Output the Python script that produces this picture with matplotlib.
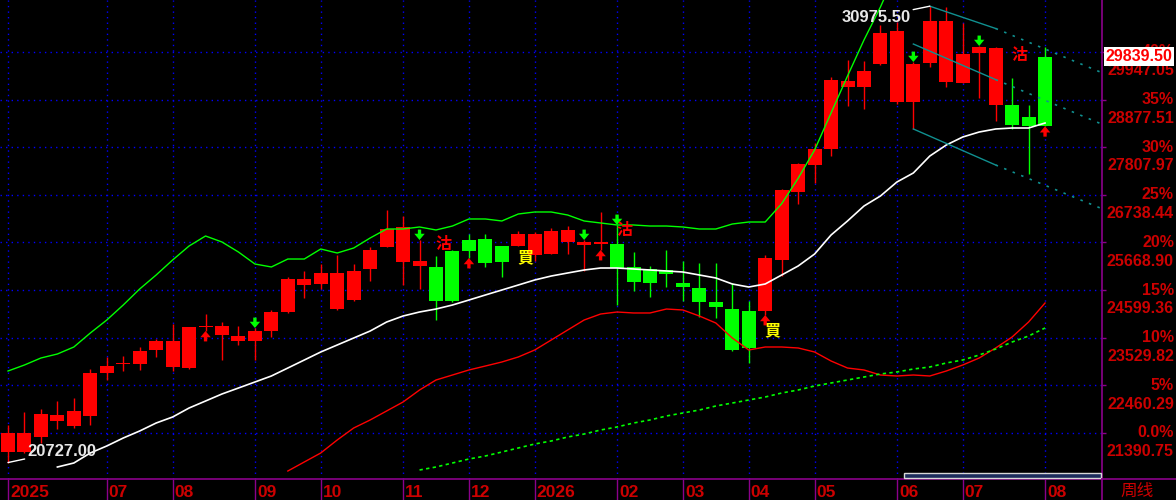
import numpy as np
import matplotlib
matplotlib.use("Agg")
import matplotlib.pyplot as plt
from matplotlib.patches import Rectangle
from matplotlib.lines import Line2D

plt.rcParams["font.family"] = ["Liberation Sans", "DejaVu Sans"]

# weekly candles, oldest first
opens = [20971, 20971, 21301, 21660, 21548, 21773, 22745, 22940, 22947, 23261,
         22866, 22844, 23782, 23598, 23464, 23457, 23681, 24108, 24714, 24737,
         24175, 24377, 25074, 25568, 25231, 25141, 25119, 25478, 25725, 25747,
         25590, 25590, 25388, 25411, 25680, 25613, 25646, 25635, 25119, 25074,
         25051, 24759, 24647, 24333, 24175, 24130, 24130, 25276, 26803, 27409,
         27769, 29161, 29161, 29677, 28824, 28824, 29700, 29273, 29251, 29924,
         28757, 28757, 28487, 29839.5]
highs = [21570, 21869, 21930, 22109, 22177, 22828, 23091, 23120, 23329, 23495,
         23838, 23782, 24063, 23883, 23794, 23749, 24153, 24901, 25029, 25186,
         25388, 25186, 25568, 26399, 26264, 25725, 25366, 25500, 25860, 25860,
         25600, 25927, 25905, 25994, 26039, 25725, 26354, 26062, 25455, 25141,
         25500, 25253, 25208, 25208, 24759, 24355, 25388, 26870, 27454, 27903,
         29385, 29767, 29745, 30553, 30621, 29722, 30975.5, 30957, 30598, 30082,
         30059, 29363, 28757, 30059]
lows = [20727, 20941, 21177, 21480, 21514, 21570, 22581, 22783, 22806, 23091,
        22790, 22828, 23681, 23030, 23367, 23030, 23553, 24086, 24422, 24625,
        24153, 24366, 24804, 25560, 24714, 24625, 23928, 24340, 25321, 25119,
        24894, 25580, 25253, 25400, 25411, 25029, 25500, 24265, 24580, 24445,
        24669, 24355, 23996, 23973, 23240, 22963, 24041, 24916, 26533, 27005,
        27611, 28734, 28667, 29660, 28779, 28218, 29610, 29161, 29240, 28914,
        28397, 28218, 27207, 28280]
closes = [21397, 21384, 21817, 21795, 21885, 22745, 22902, 22963, 23232, 23464,
          23457, 23771, 23800, 23794, 23569, 23681, 24108, 24849, 24849, 24984,
          24984, 25029, 25500, 25972, 26017, 25253, 24355, 24355, 25478, 25208,
          25231, 25860, 25860, 25927, 25950, 25680, 25680, 25096, 24782, 24759,
          24962, 24669, 24333, 24220, 23255, 23300, 25321, 26848, 27432, 27769,
          29318, 29296, 29520, 30374, 30418, 29677, 30643, 30643, 29902, 30059,
          30037, 28308, 28285, 28285]

nan = np.nan
band_upper = [22783, 22918, 23075, 23165, 23322, 23636, 23928, 24265, 24625, 24939,
              25276, 25590, 25815, 25680, 25455, 25186, 25119, 25298, 25298, 25523,
              25433, 25545, 25770, 25972, 25972, 26017, 25950, 26039, 26197, 26197,
              26152, 26309, 26354, 26354, 26286, 26152, 26107, 26062, 26062, 26039,
              26039, 26017, 25972, 25972, 26084, 26129, 26129, 26540, 27110, 27746,
              28577, 29408, 30216, 30957, 31788] + [nan] * 9
ma_white = [nan] * 3 + [
    20627, 20717, 20942, 21099, 21278, 21436, 21615, 21750, 21952, 22109,
    22267, 22401, 22536, 22671, 22850, 23030, 23210, 23367, 23524, 23681,
    23883, 24018, 24108, 24175, 24265, 24377, 24490, 24602, 24714, 24827,
    24916, 24984, 25051, 25096, 25096, 25074, 25051, 25029, 25006, 24939,
    24872, 24737, 24669, 24737, 24939, 25141, 25410, 25837, 26152, 26488,
    26713, 27027, 27230, 27611, 27858, 28038, 28150, 28218, 28240, 28240,
    28352]
ma_red = [nan] * 17 + [
    20537, 20740, 20942, 21234, 21503, 21683, 21885, 22087, 22356, 22581,
    22693, 22806, 22895, 22985, 23098, 23255, 23479, 23704, 23928, 24063,
    24108, 24086, 24086, 24175, 24153, 24018, 23861, 23524, 23255, 23322,
    23322, 23300, 23210, 23008, 22850, 22806, 22693, 22671, 22693, 22671,
    22783, 22918, 23075, 23300, 23547, 23883, 24310]
ma_long = [nan] * 25 + [
    20560, 20627, 20717, 20807, 20874, 20964, 21054, 21144, 21211, 21301,
    21368, 21458, 21526, 21615, 21683, 21773, 21840, 21907, 21997, 22064,
    22132, 22199, 22289, 22356, 22446, 22514, 22581, 22648, 22716, 22761,
    22828, 22873, 22963, 23030, 23142, 23277, 23434, 23569, 23749]

# channel trend lines: (week index, price)
chan_upper_x = [56, 60, 66.5]
chan_upper_y = [30975.5, 30475, 29475]
chan_mid_x = [55, 60, 66.5]
chan_mid_y = [30126, 29327, 28319]
chan_low_x = [55, 60, 66.5]
chan_low_y = [28218, 27409, 26421]

sell_arrows = [15, 25, 35, 37, 55, 59]
buy_arrows = [12, 28, 36, 46, 63]
sell_text_idx = [26, 37, 61]
sell_text_price = [25635, 25950, 29879]
buy_text_idx = [31, 46]
buy_text_price = [25343, 23704]

last_price = 29839.50
high_label = 30975.50
low_label = 20727.00

month_idx = [0, 6, 10, 15, 19, 24, 28, 32, 37, 41, 45, 49, 54, 58, 63]
month_labels = ["2025", "07", "08", "09", "10", "11", "12", "2026",
                "02", "03", "04", "05", "06", "07", "08"]
grid_prices = [21390.75, 22460.29, 23529.82, 24599.36, 25668.90,
               26738.44, 27807.97, 28877.51, 29947.05]
pct_labels = ["0.0%", "5%", "10%", "15%", "20%", "25%", "30%", "35%", "40%"]

RED = "#ff0000"
GREEN = "#00ff00"
PURPLE = "#8b008b"
LABEL = "#cc0000"
TEAL = "#109090"

fig = plt.figure(figsize=(11.76, 5.0), dpi=100, facecolor="black")
ax = fig.add_axes([0, 21 / 500, 1102 / 1176, 479 / 500])
ax.set_facecolor("black")

x = np.arange(len(opens))
o = np.array(opens, dtype=float)
c = np.array(closes, dtype=float)
cols = [RED if cc >= oo else GREEN for oo, cc in zip(o, c)]

ax.vlines(x, lows, highs, colors=cols, linewidth=1, zorder=2)
ax.bar(x, np.maximum(np.abs(c - o), 20), bottom=np.minimum(o, c),
       width=0.85, color=cols, linewidth=0, zorder=2)

ax.plot(x, band_upper, color=GREEN, lw=1, zorder=3)
ax.plot(x, ma_white, color="white", lw=1.2, zorder=3)
ax.plot(x, ma_red, color=RED, lw=1, zorder=3)
ax.plot(x, ma_long, color=GREEN, lw=1.2, linestyle=(0, (2, 2)), zorder=3)

for cx, cy in [(chan_upper_x, chan_upper_y), (chan_mid_x, chan_mid_y),
               (chan_low_x, chan_low_y)]:
    ax.plot(cx[:2], cy[:2], color=TEAL, lw=1, zorder=3)
    ax.plot(cx[1:], cy[1:], color=TEAL, lw=1.2, linestyle=(0, (1.5, 4)), zorder=3)

arrow_kw = dict(width=2.4, headwidth=7.5, headlength=4.5, shrink=0, edgecolor="none")
for i in sell_arrows:
    ax.annotate("", xy=(i, highs[i]), xytext=(0, 7.5), textcoords="offset points",
                arrowprops=dict(facecolor=GREEN, **arrow_kw), zorder=4)
for i in buy_arrows:
    ax.annotate("", xy=(i, lows[i]), xytext=(0, -7.5), textcoords="offset points",
                arrowprops=dict(facecolor=RED, **arrow_kw), zorder=4)

for i, p in zip(sell_text_idx, sell_text_price):
    ax.text(i - 0.05, p, "沽", color=RED, fontsize=11.5, fontweight="bold",
            family=["Noto Sans CJK TC"], ha="left", va="center", zorder=5)
for i, p in zip(buy_text_idx, buy_text_price):
    ax.text(i - 0.05, p, "買", color="#ffff00", fontsize=11.5, fontweight="bold",
            family=["Noto Sans CJK TC"], ha="left", va="center", zorder=5)

ax.annotate(f"{high_label:.2f}", xy=(56, high_label), xytext=(-14, -8),
            textcoords="offset points", ha="right", va="center", color="#e8e8e8",
            fontsize=12, fontweight="bold",
            arrowprops=dict(arrowstyle="-", color="white", lw=1, shrinkA=0, shrinkB=0))
ax.annotate(f"{low_label:.2f}", xy=(0, low_label), xytext=(14, 8.3),
            textcoords="offset points", ha="left", va="center", color="#e8e8e8",
            fontsize=12, fontweight="bold",
            arrowprops=dict(arrowstyle="-", color="white", lw=1, shrinkA=0, shrinkB=0))

ax.set_xlim(-0.486, 66.46)
ax.set_ylim(20357.7, 31114.6)

ax.set_xticks(month_idx)
ax.set_xticklabels([])
ax.set_yticks(grid_prices)
ax.set_yticklabels([])
ax.yaxis.tick_right()
ax.tick_params(axis="x", direction="out", length=15, width=1, color=PURPLE)
ax.tick_params(axis="y", direction="out", length=3, width=1, color=PURPLE)
ax.grid(True, color="#0000ff", linestyle=(0, (1, 3)), linewidth=1)
ax.set_axisbelow(True)
for side in ["left", "top"]:
    ax.spines[side].set_visible(False)
for side in ["bottom", "right"]:
    ax.spines[side].set_color(PURPLE)
    ax.spines[side].set_linewidth(1.2)

for idx, lab in zip(month_idx, month_labels):
    ax.annotate(lab, xy=(idx, 0), xycoords=("data", "axes fraction"),
                xytext=(1.5, -4), textcoords="offset points", ha="left", va="top",
                color=LABEL, fontsize=12.5, fontweight="bold", annotation_clip=False)

for p, pl in zip(grid_prices, pct_labels):
    # the top percent label sits behind the last-price box, as in the source
    ax.annotate(pl, xy=(1, p), xycoords=("axes fraction", "data"),
                xytext=(51.8, 0), textcoords="offset points", ha="right", va="center",
                color=LABEL, fontsize=11.5, fontweight="bold", annotation_clip=False)
    ax.annotate(f"{p:.2f}", xy=(1, p), xycoords=("axes fraction", "data"),
                xytext=(51.8, -13.5), textcoords="offset points", ha="right",
                va="center", color=LABEL, fontsize=11.5, fontweight="bold",
                annotation_clip=False)

ax.annotate(f"{last_price:.2f}", xy=(1, last_price), xycoords=("axes fraction", "data"),
            xytext=(26.6, 0), textcoords="offset points", ha="center", va="center",
            color=RED, fontsize=11.5, fontweight="bold", annotation_clip=False,
            bbox=dict(boxstyle="square,pad=0.12", fc="white", ec="none"), zorder=6)

# frame pieces outside the plot area
fig.add_artist(Line2D([1102 / 1176, 1102 / 1176], [0, 21 / 500], color=PURPLE, lw=1.2,
                      transform=fig.transFigure))
fig.add_artist(Line2D([1102 / 1176, 1], [21 / 500, 21 / 500], color=PURPLE, lw=1.2,
                      transform=fig.transFigure))
fig.add_artist(Rectangle((904 / 1176, 22.5 / 500), 197 / 1176, 4.5 / 500,
                         transform=fig.transFigure, facecolor="#1c2c5c",
                         edgecolor="#d8d8d8", lw=1))
fig.text(1137 / 1176, 1 - 491 / 500, "周线", color=LABEL, fontsize=12,
         family=["Noto Sans CJK SC"], ha="center", va="center")

fig.savefig("out.png", dpi=100, facecolor="black")
